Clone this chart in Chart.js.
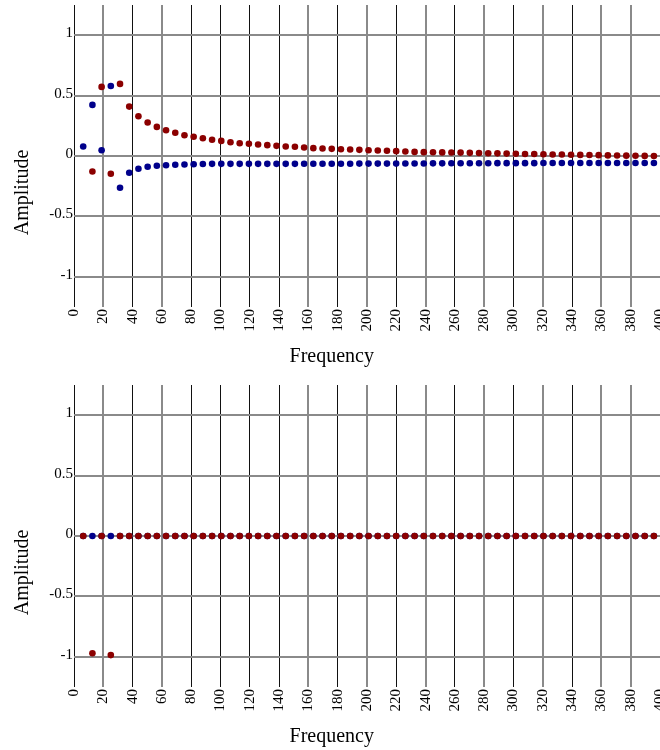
<!DOCTYPE html>
<html>
<head>
<meta charset="utf-8">
<script src="https://cdn.jsdelivr.net/npm/chart.js@4.4.1/dist/chart.umd.min.js"></script>
<style>
  html, body { margin: 0; padding: 0; background: #fff; width: 660px; height: 750px; overflow: hidden; }
  .panel { position: absolute; left: 0; width: 660px; height: 380px; }
</style>
</head>
<body>
<div class="panel" style="top:0"><canvas id="c1" width="660" height="380"></canvas></div>
<div class="panel" style="top:380px"><canvas id="c2" width="660" height="380"></canvas></div>
<script>
// ---- data ----
const frequency = [6.28, 12.57, 18.85, 25.13, 31.42, 37.70, 43.98, 50.27, 56.55, 62.83,
  69.12, 75.40, 81.68, 87.96, 94.25, 100.53, 106.81, 113.10, 119.38, 125.66,
  131.95, 138.23, 144.51, 150.80, 157.08, 163.36, 169.65, 175.93, 182.21, 188.50,
  194.78, 201.06, 207.35, 213.63, 219.91, 226.19, 232.48, 238.76, 245.04, 251.33,
  257.61, 263.89, 270.18, 276.46, 282.74, 289.03, 295.31, 301.59, 307.88, 314.16,
  320.44, 326.73, 333.01, 339.29, 345.58, 351.86, 358.14, 364.42, 370.71, 376.99,
  383.27, 389.56, 395.84];

const topRed = [null, -0.128, 0.572, -0.147, 0.597, 0.409, 0.329, 0.277, 0.241, 0.213,
  0.192, 0.172, 0.159, 0.147, 0.134, 0.125, 0.114, 0.106, 0.101, 0.095,
  0.090, 0.084, 0.079, 0.076, 0.070, 0.065, 0.062, 0.059, 0.056, 0.054,
  0.051, 0.048, 0.045, 0.043, 0.040, 0.037, 0.034, 0.032, 0.031, 0.030,
  0.029, 0.028, 0.026, 0.025, 0.023, 0.022, 0.020, 0.019, 0.017, 0.016,
  0.015, 0.013, 0.012, 0.010, 0.009, 0.008, 0.007, 0.005, 0.004, 0.003,
  0.002, 0.001, 0.000];

const topBlue = [0.079, 0.423, 0.048, 0.580, -0.263, -0.139, -0.106, -0.089, -0.081, -0.076,
  -0.073, -0.070, -0.068, -0.066, -0.065, -0.065, -0.065, -0.065, -0.065, -0.065,
  -0.065, -0.065, -0.065, -0.065, -0.064, -0.064, -0.064, -0.064, -0.064, -0.064,
  -0.063, -0.063, -0.063, -0.063, -0.063, -0.062, -0.062, -0.062, -0.061, -0.061,
  -0.060, -0.060, -0.060, -0.060, -0.060, -0.059, -0.059, -0.059, -0.059, -0.059,
  -0.058, -0.058, -0.058, -0.058, -0.058, -0.058, -0.058, -0.058, -0.058, -0.058,
  -0.058, -0.058, -0.058];

const bottomRed = [0, -0.971, 0, -0.986, 0, 0, 0, 0, 0, 0,
  0, 0, 0, 0, 0, 0, 0, 0, 0, 0,
  0, 0, 0, 0, 0, 0, 0, 0, 0, 0,
  0, 0, 0, 0, 0, 0, 0, 0, 0, 0,
  0, 0, 0, 0, 0, 0, 0, 0, 0, 0,
  0, 0, 0, 0, 0, 0, 0, 0, 0, 0,
  0, 0, 0];

const bottomBlue = [0, 0, 0, 0, 0, 0, 0, 0, 0, 0,
  0, 0, 0, 0, 0, 0, 0, 0, 0, 0,
  0, 0, 0, 0, 0, 0, 0, 0, 0, 0,
  0, 0, 0, 0, 0, 0, 0, 0, 0, 0,
  0, 0, 0, 0, 0, 0, 0, 0, 0, 0,
  0, 0, 0, 0, 0, 0, 0, 0, 0, 0,
  0, 0, 0];

const yTicks = [-1, -0.5, 0, 0.5, 1];
const xAxisTitle = 'Frequency';
const yAxisTitle = 'Amplitude';

// ---- styling ----
const SERIF = '"Liberation Serif", "Times New Roman", Times, serif';
const RED = '#8b0000';
const BLUE = '#00008b';
const greyVerticals = [20, 60, 160, 200, 240, 280, 320, 360, 380];

function toPoints(values) {
  const pts = [];
  frequency.forEach((f, i) => { if (values[i] !== null) pts.push({x: f, y: values[i]}); });
  return pts;
}

function makeChart(id, red, blue) {
  return new Chart(document.getElementById(id), {
    type: 'scatter',
    data: {
      datasets: [
        { label: 'red', data: toPoints(red), backgroundColor: RED, borderWidth: 0, pointRadius: 3.3 },
        { label: 'blue', data: toPoints(blue), backgroundColor: BLUE, borderWidth: 0, pointRadius: 3.3 }
      ]
    },
    options: {
      responsive: false,
      animation: false,
      events: [],
      layout: { autoPadding: false, padding: { top: 5, right: -3.5, bottom: 0, left: 0 } },
      plugins: {
        legend: { display: false },
        tooltip: { enabled: false },
        title: {
          display: true, text: yAxisTitle, position: 'left', color: '#000',
          font: { family: SERIF, size: 20, weight: 'normal' },
          padding: { top: 11, bottom: 0 }
        },
        subtitle: {
          display: true, text: xAxisTitle, position: 'bottom', color: '#000',
          font: { family: SERIF, size: 20, weight: 'normal' },
          padding: { top: 4.5, bottom: 11.5 }
        }
      },
      scales: {
        x: {
          type: 'linear', position: 'bottom', min: 0, max: 400,
          border: { display: false },
          grid: {
            drawTicks: false,
            color: c => greyVerticals.includes(c.tick && c.tick.value) ? '#8a8a8a' : '#111',
            lineWidth: c => greyVerticals.includes(c.tick && c.tick.value) ? 2 : 1
          },
          ticks: {
            stepSize: 20, autoSkip: false, minRotation: 90, maxRotation: 90,
            padding: 2, color: '#000', font: { family: SERIF, size: 15 },
            callback: v => String(v)
          },
          afterFit: s => { s.height = 33; s.paddingRight = -3.5; s.paddingLeft = 0; }
        },
        y: {
          type: 'linear', min: -1.25, max: 1.25,
          border: { display: false },
          grid: { drawTicks: false, color: '#8a8a8a', lineWidth: 2 },
          ticks: {
            stepSize: 0.5, padding: 1, labelOffset: -2, color: '#000',
            font: { family: SERIF, size: 15 },
            callback: v => String(v)
          },
          afterBuildTicks: s => { s.ticks = yTicks.map(v => ({ value: v })); },
          afterFit: s => { s.width = 39; s.paddingTop = 0; s.paddingBottom = 0; }
        }
      }
    }
  });
}

makeChart('c1', topRed, topBlue);
makeChart('c2', bottomRed, bottomBlue);
</script>
</body>
</html>
